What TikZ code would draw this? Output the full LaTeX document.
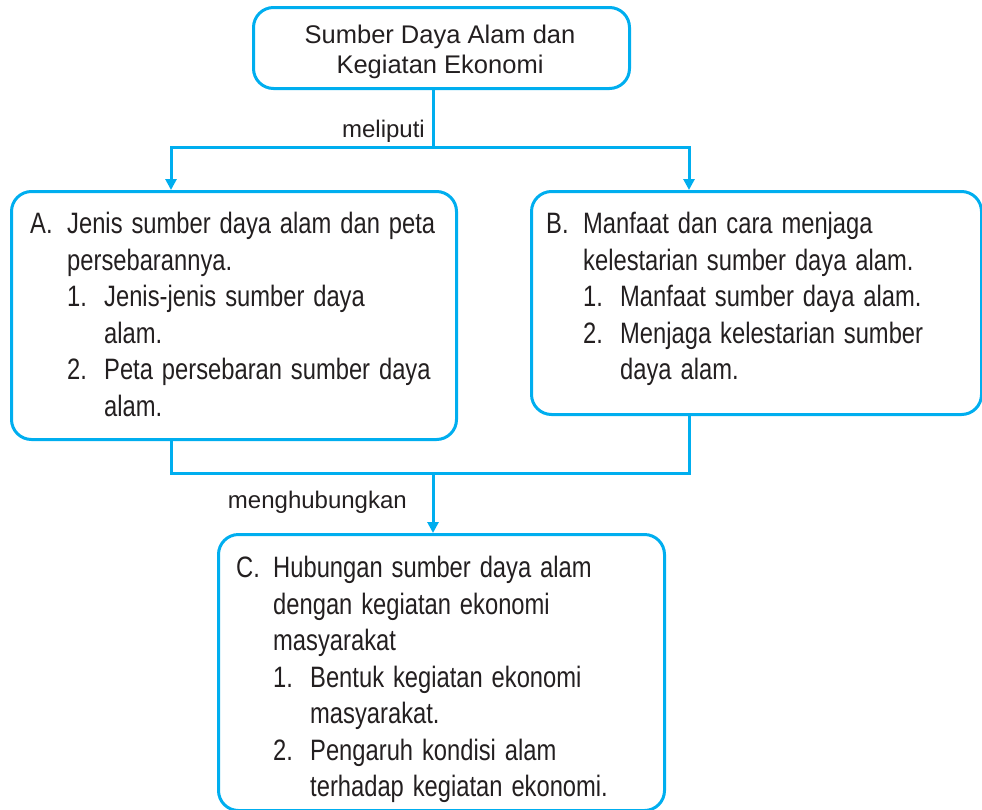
\documentclass[tikz,border=0pt]{standalone}
\usepackage{fontspec}
\setmainfont{Liberation Sans}
\newfontfamily\condfont[FakeStretch=0.805,WordSpace=1.35]{Liberation Sans}
\usetikzlibrary{arrows.meta}
\definecolor{linecyan}{HTML}{00AEEF}
\definecolor{inktext}{HTML}{231F20}
\newcommand{\itm}[1]{\makebox[37pt][l]{#1}}
\tikzset{
  box/.style={draw=linecyan,line width=3pt,rounded corners=20pt,inner sep=0pt,anchor=north west},
  link/.style={draw=linecyan,line width=3pt},
  boxtext/.style={text=inktext,inner sep=0pt,anchor=north west,align=left,font={\fontsize{29.5}{36.5}\condfont}},
  lbl/.style={text=inktext,inner sep=0pt,font={\fontsize{24}{28}\selectfont}}
}
\begin{document}
\begin{tikzpicture}[x=1pt,y=-1pt,>={Triangle[width=11pt,length=11pt]}]
  \useasboundingbox (0,0) rectangle (982,809);
  \node[box,minimum width=376pt,minimum height=81pt] (top) at (252,6) {};
  \node[box,minimum width=445pt,minimum height=248pt] (boxA) at (10,190) {};
  \node[box,minimum width=450pt,minimum height=223pt] (boxB) at (530,190) {};
  \node[box,minimum width=446pt,minimum height=276pt] (boxC) at (217,533) {};
  \node[text=inktext,inner sep=0pt,anchor=north,align=center,font={\fontsize{25.5}{30}\selectfont}] (topT) at (440,25)
    {Sumber Daya Alam dan\\Kegiatan Ekonomi};
  \node[boxtext] (textA) at (30,212) {%
    \itm{A.}Jenis sumber daya alam dan peta\\
    \itm{}persebarannya.\\
    \itm{}\itm{1.}Jenis-jenis sumber daya\\
    \itm{}\itm{}alam.\\
    \itm{}\itm{2.}Peta persebaran sumber daya\\
    \itm{}\itm{}alam.};
  \node[boxtext] (textB) at (546,212) {%
    \itm{B.}Manfaat dan cara menjaga\\
    \itm{}kelestarian sumber daya alam.\\
    \itm{}\itm{1.}Manfaat sumber daya alam.\\
    \itm{}\itm{2.}Menjaga kelestarian sumber\\
    \itm{}\itm{}daya alam.};
  \node[boxtext] (textC) at (236,556) {%
    \itm{C.}Hubungan sumber daya alam\\
    \itm{}dengan kegiatan ekonomi\\
    \itm{}masyarakat\\
    \itm{}\itm{1.}Bentuk kegiatan ekonomi\\
    \itm{}\itm{}masyarakat.\\
    \itm{}\itm{2.}Pengaruh kondisi alam\\
    \itm{}\itm{}terhadap kegiatan ekonomi.};
  \coordinate (fork) at (433,147);
  \coordinate (inA) at (171,190);
  \coordinate (inB) at (689,190);
  \coordinate (outA) at (171,438);
  \coordinate (outB) at (689,413);
  \coordinate (join) at (433,473);
  \draw[link] (top.south -| fork) -- (fork);
  \draw[link,->] (fork) -| (boxA.north -| inA);
  \draw[link,->] (fork) -| (boxB.north -| inB);
  \draw[link] (boxA.south -| outA) |- (join) -| (boxB.south -| outB);
  \draw[link,->] (join) -- (join |- boxC.north);
  \node[lbl,anchor=base east] (meliputi) at (425,137) {meliputi};
  \node[lbl,anchor=base east] (menghub) at (407,508) {menghubungkan};
\end{tikzpicture}
\end{document}
